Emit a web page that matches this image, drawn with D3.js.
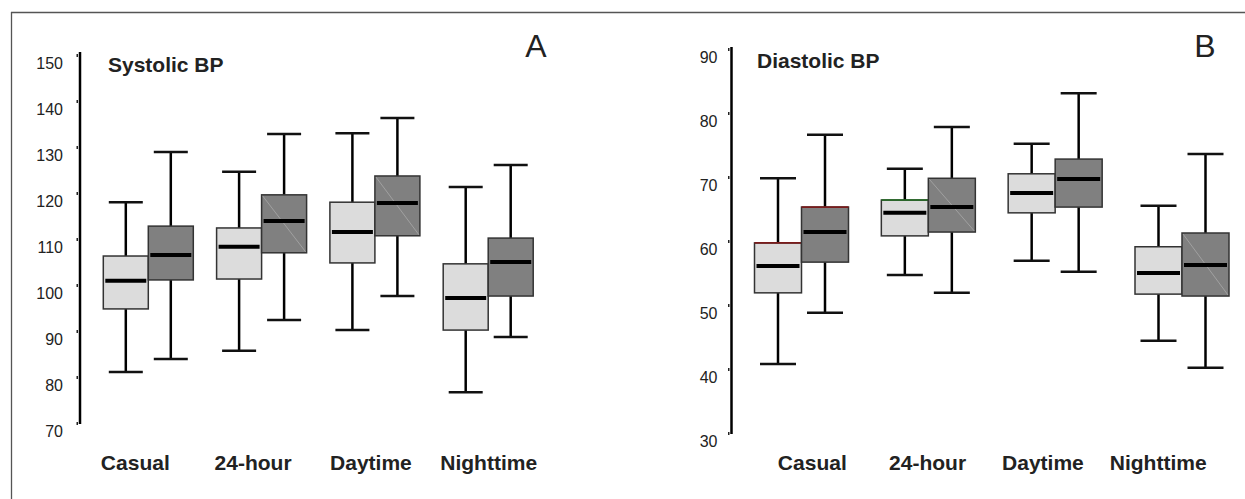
<!DOCTYPE html>
<html lang="en">
<head>
    <meta charset="UTF-8">
    <title>Systolic and diastolic BP</title>
    <script src="https://cdn.jsdelivr.net/npm/d3@7"></script>
    <style>
        html,
        body {
            margin: 0;
            background: #fff;
        }
        text {
            font-family: "Liberation Sans", Arial, sans-serif;
            fill: #222;
        }
    </style>
</head>
<body>
<svg id="container" width="1245" height="499"></svg>
<script>
    // categories on the x axis
    const categories = ['Casual', '24-hour', 'Daytime', 'Nighttime'];

    // tick labels
    const sysTicks = [70, 80, 90, 100, 110, 120, 130, 140, 150];
    const diaTicks = [30, 40, 50, 60, 70, 80, 90];

    // each box: [low whisker, q1, median, q3, high whisker]
    const sysLight = [
        [81.1, 94.8, 100.9, 106.3, 118.0],
        [85.7, 101.3, 108.3, 112.4, 124.6],
        [90.2, 104.8, 111.5, 118.0, 133.0],
        [76.7, 90.2, 97.2, 104.6, 121.3]
    ];
    const sysDark = [
        [83.9, 101.1, 106.5, 112.8, 128.9],
        [92.4, 107.0, 113.9, 119.6, 132.8],
        [97.6, 110.7, 117.8, 123.7, 136.3],
        [88.7, 97.6, 105.0, 110.2, 126.1]
    ];
    const diaLight = [
        [40.8, 51.9, 56.1, 59.7, 69.8],
        [54.7, 60.8, 64.4, 66.4, 71.3],
        [56.9, 64.4, 67.5, 70.5, 75.2],
        [44.4, 51.7, 55.0, 59.1, 65.5]
    ];
    const diaDark = [
        [48.8, 56.7, 61.4, 65.3, 76.6],
        [51.9, 61.4, 65.3, 69.8, 77.8],
        [55.2, 65.3, 69.7, 72.8, 83.1],
        [40.2, 51.4, 56.25, 61.25, 73.6]
    ];

    const svg = d3.select('#container');

    // frame: only top and left edges show
    svg.append('line').attr('x1', 11).attr('x2', 1245).attr('y1', 12.5).attr('y2', 12.5)
        .attr('stroke', '#555').attr('stroke-width', 1.3);
    svg.append('line').attr('x1', 11.5).attr('x2', 11.5).attr('y1', 12).attr('y2', 499)
        .attr('stroke', '#555').attr('stroke-width', 1.3);

    const panels = [
        {
            title: 'Systolic BP', letter: 'A', ticks: sysTicks, light: sysLight, dark: sysDark,
            axisX: 80, yDomain: [70, 150], yRange: [423, 55], axisTop: 52,
            boxX: [148.3, 488.2], labelX: [134.8, 488.2], boxW: 45, capW: 34,
            titleX: 108, titleY: 72, letterX: 536, labelPad: 15,
            diag: [false, true, true, false]
        },
        {
            title: 'Diastolic BP', letter: 'B', ticks: diaTicks, light: diaLight, dark: diaDark,
            axisX: 731.5, yDomain: [30, 90], yRange: [433, 49], axisTop: 47,
            boxX: [801.5, 1182], labelX: [811.8, 1157.7], boxW: 47, capW: 36,
            titleX: 757, titleY: 68, letterX: 1205, labelPad: 12,
            diag: [false, true, false, true],
            accentDark: ['#7a1c1c', null, null, null], accentLight: ['#7a1c1c', '#1f6b1f', null, null]
        }
    ];

    panels.forEach(p => {
        const y = d3.scaleLinear().domain(p.yDomain).range(p.yRange);
        const x = d3.scalePoint().domain(categories).range(p.boxX);
        const xl = d3.scalePoint().domain(categories).range(p.labelX);

        const g = svg.append('g');

        // y axis
        const yAxis = d3.axisLeft(y).tickValues(p.ticks).tickSizeInner(2).tickSizeOuter(0).tickPadding(p.labelPad - 2);
        const ag = g.append('g').attr('transform', `translate(${p.axisX - 2},0)`).call(yAxis);
        ag.select('.domain').remove();
        ag.selectAll('.tick line').attr('stroke', '#222').attr('stroke-width', 3).attr('x2', -1.5);
        ag.selectAll('.tick text').attr('font-size', 16).attr('dy', '0.72em').attr('y', 0)
            .attr('transform', 'translate(0,1.5)').style('fill', '#222');
        g.append('line')
            .attr('x1', p.axisX).attr('x2', p.axisX)
            .attr('y1', p.axisTop).attr('y2', y(p.yDomain[0]) + 1)
            .attr('stroke', '#000').attr('stroke-width', 2.5);

        // category labels
        const xAxis = d3.axisBottom(xl).tickSize(0).tickPadding(0);
        const xg = g.append('g').attr('transform', 'translate(0,470)').call(xAxis);
        xg.select('.domain').remove();
        xg.selectAll('.tick text').attr('font-size', 21).attr('font-weight', 'bold')
            .attr('dy', 0).attr('y', 0).style('fill', '#222');

        // titles
        g.append('text').attr('x', p.titleX).attr('y', p.titleY)
            .attr('font-size', 21).attr('font-weight', 'bold').text(p.title);
        g.append('text').attr('x', p.letterX).attr('y', 57).attr('text-anchor', 'middle')
            .attr('font-size', 32).text(p.letter);

        const groups = [
            {data: p.light, fill: '#dcdcdc', side: -1, accent: p.accentLight || []},
            {data: p.dark, fill: '#808080', side: 1, accent: p.accentDark || []}
        ];

        groups.forEach(grp => {
            grp.data.forEach((d, i) => {
                const c = x(categories[i]);
                const x0 = grp.side < 0 ? c - p.boxW : c;
                const cx = x0 + p.boxW / 2;
                const [lo, q1, med, q3, hi] = d;
                const bg = g.append('g');

                // whiskers
                bg.append('line').attr('x1', cx).attr('x2', cx).attr('y1', y(hi)).attr('y2', y(q3))
                    .attr('stroke', '#000').attr('stroke-width', 2.5);
                bg.append('line').attr('x1', cx).attr('x2', cx).attr('y1', y(q1)).attr('y2', y(lo))
                    .attr('stroke', '#000').attr('stroke-width', 2.5);
                [hi, lo].forEach(v => {
                    bg.append('line').attr('x1', cx - p.capW / 2).attr('x2', cx + p.capW / 2)
                        .attr('y1', y(v)).attr('y2', y(v))
                        .attr('stroke', '#111').attr('stroke-width', 2.5);
                });

                // box
                bg.append('rect').attr('x', x0).attr('y', y(q3))
                    .attr('width', p.boxW).attr('height', y(q1) - y(q3))
                    .attr('fill', grp.fill).attr('stroke', '#333').attr('stroke-width', 1.5);

                if (grp.side > 0 && p.diag[i]) {
                    bg.append('line').attr('x1', x0 + 1).attr('y1', y(q3) + 1)
                        .attr('x2', x0 + p.boxW - 1).attr('y2', y(q1) - 1)
                        .attr('stroke', '#a8a8a8').attr('stroke-width', 0.8);
                }
                if (grp.accent[i]) {
                    bg.append('line').attr('x1', x0).attr('x2', x0 + p.boxW)
                        .attr('y1', y(q3)).attr('y2', y(q3))
                        .attr('stroke', grp.accent[i]).attr('stroke-width', 1.6);
                }

                // median
                bg.append('line').attr('x1', x0 + 2).attr('x2', x0 + p.boxW - 2)
                    .attr('y1', y(med)).attr('y2', y(med))
                    .attr('stroke', '#000').attr('stroke-width', 4);
            });
        });
    });
</script>
</body>
</html>
